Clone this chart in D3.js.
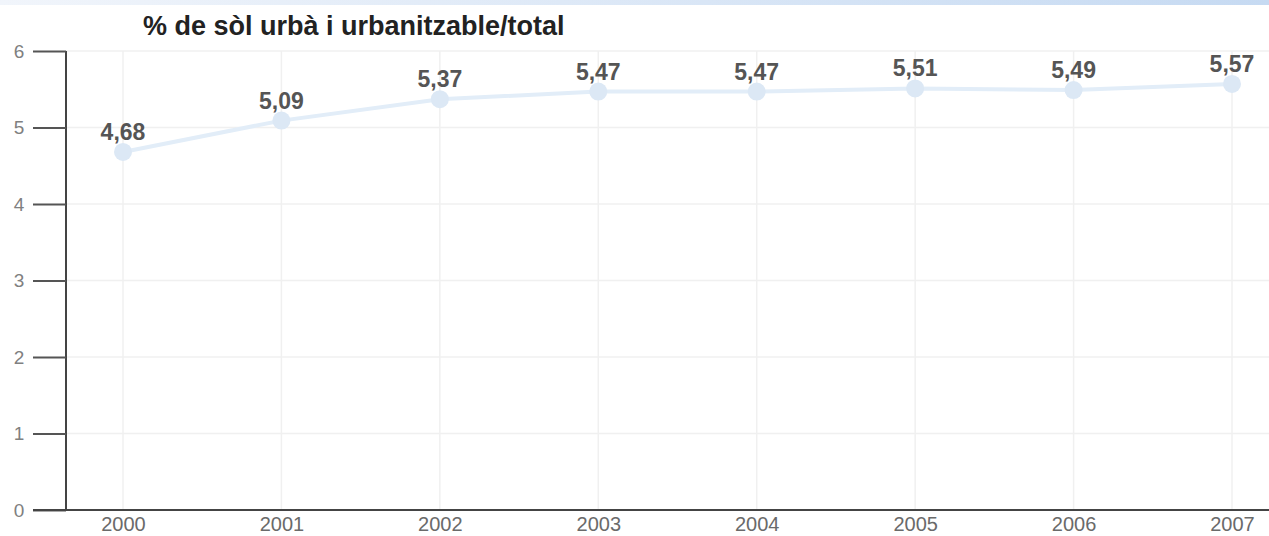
<!DOCTYPE html>
<html><head><meta charset="utf-8">
<script src="https://cdn.jsdelivr.net/npm/d3@7"></script>
<style>body{margin:0;background:#fff;}svg{display:block;}</style>
</head><body>
<svg id="c" width="1269" height="536"></svg>
<script>
const years = ["2000","2001","2002","2003","2004","2005","2006","2007"];
const values = [4.68, 5.09, 5.37, 5.47, 5.47, 5.51, 5.49, 5.57];
const labels = ["4,68","5,09","5,37","5,47","5,47","5,51","5,49","5,57"];
const yTicks = [0,1,2,3,4,5,6];
const title = "% de sòl urbà i urbanitzable/total";

const svg = d3.select("#c");
const x = d3.scalePoint().domain(years).range([123, 1232]);
const y = d3.scaleLinear().domain([0, 6]).range([510, 51]);
const FONT = "Liberation Sans, Arial, Helvetica, sans-serif";

// top band (scan header)
const grad = svg.append("defs").append("linearGradient").attr("id","g").attr("x1","0").attr("x2","1");
grad.append("stop").attr("offset","0").attr("stop-color","#f1f5fb");
grad.append("stop").attr("offset","1").attr("stop-color","#c6daf2");
svg.append("rect").attr("x",0).attr("y",0).attr("width",1269).attr("height",5).attr("fill","url(#g)");

// grid
svg.append("g").selectAll("line").data(yTicks.filter(d=>d>0)).join("line")
  .attr("x1",66).attr("x2",1269).attr("y1",d=>y(d)).attr("y2",d=>y(d))
  .attr("stroke","#f0f0f0").attr("stroke-width",1.5);
svg.append("g").selectAll("line").data(years).join("line")
  .attr("x1",d=>x(d)).attr("x2",d=>x(d)).attr("y1",y(6)).attr("y2",y(0))
  .attr("stroke","#f0f0f0").attr("stroke-width",1.5);

// y axis
const yAxis = d3.axisLeft(y).tickValues(yTicks).tickSize(33).tickPadding(6).tickFormat(d3.format("d"));
const gy = svg.append("g").attr("transform","translate(66,0)").call(yAxis);
gy.attr("font-size",19).attr("font-family",FONT);
gy.select(".domain").attr("stroke","#444").attr("stroke-width",2).attr("d","M0,"+y(6)+"V"+y(0));
gy.selectAll(".tick line").attr("stroke","#555").attr("stroke-width",2);
gy.selectAll(".tick text").attr("fill","#808080").style("font-size","19px").attr("x",-47).attr("text-anchor","middle");

// x axis
const xAxis = d3.axisBottom(x).tickSize(0).tickPadding(7);
const gx = svg.append("g").attr("transform","translate(0,"+y(0)+")").call(xAxis);
gx.attr("font-size",20).attr("font-family",FONT);
gx.select(".domain").attr("stroke","#444").attr("stroke-width",2).attr("d","M33,0H1269");
gx.selectAll(".tick text").attr("fill","#6a6a6a").style("font-size","20px");

// line
const line = d3.line().x((d,i)=>x(years[i])).y(d=>y(d));
svg.append("path").datum(values).attr("d",line).attr("fill","none").attr("stroke","#e2edf8").attr("stroke-width",4);
svg.append("g").selectAll("circle").data(values).join("circle")
  .attr("cx",(d,i)=>x(years[i])).attr("cy",d=>y(d)).attr("r",9).attr("fill","#dce8f5");

// labels
svg.append("g").selectAll("text").data(values).join("text")
  .attr("x",(d,i)=>x(years[i])).attr("y",d=>y(d)-12)
  .attr("text-anchor","middle").attr("fill","#555").attr("font-weight","bold")
  .attr("font-family",FONT).attr("font-size",23)
  .text((d,i)=>labels[i]);

// title
svg.append("text").attr("x",143).attr("y",35).attr("fill","#222").attr("font-weight","bold")
  .attr("font-family",FONT).attr("font-size",27).text(title);
</script>
</body></html>
